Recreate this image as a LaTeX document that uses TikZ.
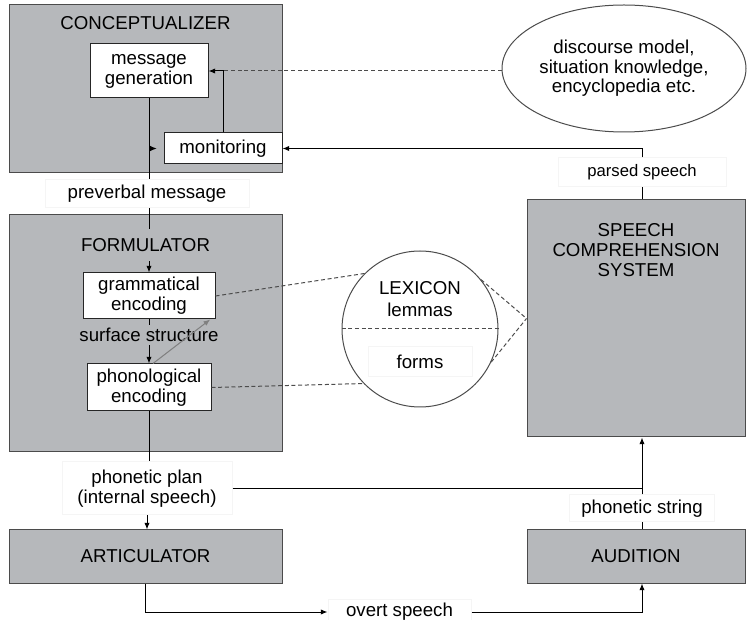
\documentclass[tikz,border=0pt]{standalone}
\usepackage{fontspec}
\setmainfont{Liberation Sans}
\usetikzlibrary{arrows.meta,shapes.geometric}
\definecolor{boxgray}{RGB}{182,184,187}
\definecolor{framegray}{RGB}{75,75,75}
\tikzset{every picture/.style={line width=0.75pt}}
\tikzset{
  module/.style={draw=framegray, fill=boxgray, inner sep=0pt, align=center, font=\fontsize{14}{15}\selectfont},
  proc/.style={draw=black!85, fill=white, inner sep=0pt, align=center, font=\fontsize{14}{15}\selectfont},
  lbl/.style={draw=black!4, fill=white, inner sep=0pt, align=center, font=\fontsize{14}{15}\selectfont},
  caption/.style={inner sep=2pt, align=center, font=\fontsize{14}{15}\selectfont},
  flow/.style={-{Latex[length=5pt,width=4pt]}},
  link/.style={draw=black!70, dash pattern=on 3pt off 2pt}
}

\begin{document}
\begin{tikzpicture}[x=0.75pt,y=0.75pt,yscale=-1,xscale=1]
\useasboundingbox (0,0) rectangle (747,620);

% Shape: Rectangle
\draw (145.5,89) node [module, minimum width=204.75pt, minimum height=126pt] (concept) {};
\draw (145.5,23) node [caption] (ctitle) {CONCEPTUALIZER};
\draw (145.5,333.5) node [module, minimum width=204.75pt, minimum height=177.75pt] (formul) {};
\draw (145.5,245) node [caption, inner sep=7pt] (ftitle) {FORMULATOR};
\draw (636,318.5) node [module, minimum width=163.5pt, minimum height=177.75pt] (scs) {};
\draw (636,250) node [caption] (stitle) {SPEECH\\COMPREHENSION\\SYSTEM};
\draw (145.5,556.5) node [module, minimum width=204.75pt, minimum height=39.75pt] (artic) {ARTICULATOR};
\draw (636,556.5) node [module, minimum width=163.5pt, minimum height=39.75pt] (audit) {AUDITION};

% Shape: Ellipse
\draw (624,68.5) node [ellipse, draw=black!70, fill=white, inner sep=0pt, minimum width=183pt, minimum height=95.25pt, align=center, font=\fontsize{14}{14.6}\selectfont] (know) {discourse model,\\situation knowledge,\\encyclopedia etc.};

% Shape: Circle
\draw (420,329) node [circle, draw=black!70, fill=white, inner sep=0pt, minimum size=117pt] (lex) {};
\draw[link] (lex.west) -- (lex.east);
\draw (420,288) node [caption] (lextitle) {LEXICON};
\draw (420,310) node [caption] (lemma) {lemmas};
\draw (420,362) node [lbl, minimum width=78pt, minimum height=22.5pt] (forms) {forms};

% Shape: Rectangle
\draw (149,71) node [proc, minimum width=88.5pt, minimum height=40.5pt] (msg) {message\\generation};
\draw (223,148.5) node [proc, minimum width=88.5pt, minimum height=23.25pt] (mon) {monitoring};
\draw (149,296) node [proc, minimum width=99pt, minimum height=34.5pt] (gram) {grammatical\\encoding};
\draw (149,387.5) node [proc, minimum width=93pt, minimum height=35.25pt] (phon) {phonological\\encoding};

% Text Node
\draw (147,194) node [lbl, minimum width=153pt, minimum height=21pt] (preverb) {preverbal message};
\draw (149,335) node [caption] (surf) {surface structure};
\draw (147,488.5) node [lbl, minimum width=127.5pt, minimum height=39.75pt] (plan) {phonetic plan\\(internal speech)};
\draw (642,172.5) node [lbl, minimum width=126pt, minimum height=21.75pt, font=\fontsize{12.5}{14}\selectfont] (parsed) {parsed speech};
\draw (642,508.5) node [lbl, minimum width=108.75pt, minimum height=20.25pt] (pstring) {phonetic string};
\draw (399.5,612) node [lbl, minimum width=107.25pt, minimum height=19.5pt] (overt) {overt speech};
\coordinate (tap) at (642,488.5);

% Connection
\draw (msg.south) -- (msg.south |- preverb.north);
\draw (msg.south |- preverb.south) -- (msg.south |- ftitle.north);
\draw[flow] (msg.south |- ftitle.south) -- (gram.north);
\draw[flow] (msg.south |- mon.west) -- ([xshift=-5pt]mon.west);
\draw[flow] (mon.north) |- (msg.east);
\draw[link] (know.west |- msg.east) -- (mon.north |- msg.east);
\draw (gram.south) -- (surf.north -| gram.south);
\draw[flow] (surf.south -| phon.north) -- (phon.north);
\draw[flow, draw=gray, fill=gray] ([xshift=3pt]phon.north) -- ([xshift=-4pt]gram.south east);
\draw (phon.south) -- (plan.north -| phon.south);
\draw[flow] (plan.south) -- (artic.north -| plan.south);
\draw (plan.east) -- (tap);
\draw (audit.north -| tap) -- (pstring.south);
\draw[flow] (pstring.north) -- (scs.south -| tap);
\draw (scs.north -| parsed.south) -- (parsed.south);
\draw[flow] (parsed.north) |- (mon.east);
\draw[flow] (artic.south) |- (overt.west);
\draw[flow] (overt.east) -| (audit.south -| tap);

% Lexicon links
\draw[link] (gram.east) -- (lex.135);
\draw[link] (phon.east) -- (lex.224);
\draw[link] (lex.39) -- (scs.west);
\draw[link] (lex.-25) -- (scs.west);
\end{tikzpicture}
\end{document}
